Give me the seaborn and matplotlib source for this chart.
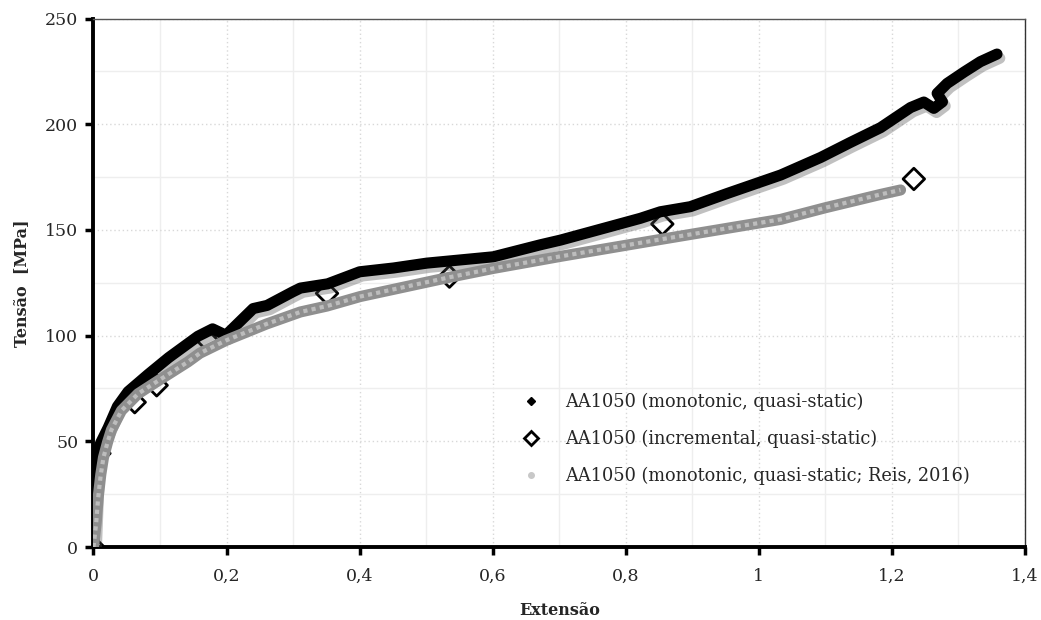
import numpy as np
import pandas as pd
import matplotlib
matplotlib.use("Agg")
import matplotlib.pyplot as plt
import matplotlib.patheffects as pe
from matplotlib.lines import Line2D
from matplotlib.ticker import MultipleLocator
import seaborn as sns

# ---- data ----
mono_x = [0, 0.003, 0.005, 0.011, 0.022, 0.036, 0.052, 0.082, 0.113, 0.157, 0.179, 0.199,
          0.24, 0.261, 0.30, 0.311, 0.352, 0.40, 0.451, 0.501, 0.601, 0.672, 0.702,
          0.822, 0.852, 0.897, 0.953, 1.033, 1.093, 1.137, 1.183, 1.228, 1.248, 1.263,
          1.276, 1.268, 1.283, 1.309, 1.333, 1.358]
mono_y = [0, 24, 44.3, 49.4, 56.4, 66.5, 73.5, 81.6, 89.6, 99.7, 103.2, 100.2,
          112.8, 114.3, 120.8, 122.5, 124.5, 130.2, 132, 134.3, 137.3, 143, 145.2,
          155.5, 158.6, 161, 167.3, 176, 184.3, 191.3, 198.4, 207.9, 210.5, 207.5,
          210.6, 214.6, 219.3, 224.8, 229.6, 233.2]

incr_x = [0, 0.009, 0.062, 0.095, 0.172, 0.351, 0.535, 0.855, 1.233]
incr_y = [0, 44.3, 68.5, 76.5, 97.5, 120, 127.9, 152.8, 174.1]

reis_x = [0, 0.004, 0.007, 0.011, 0.015, 0.021, 0.027, 0.042, 0.067, 0.092, 0.142, 0.160,
          0.199, 0.26, 0.311, 0.351, 0.401, 0.501, 0.535, 0.601, 0.672, 0.702, 0.852,
          1.033, 1.1, 1.183, 1.213]
reis_y = [0, 11.1, 23.2, 34.3, 42.3, 49.4, 55.4, 64.5, 72.5, 77.6, 87.6, 91.7,
          97.7, 105.5, 111.2, 114, 118.5, 125.3, 127.6, 131.8, 135.8, 137.5, 145.5,
          155, 160.5, 166.8, 168.9]

labels = ["AA1050 (monotonic, quasi-static)",
          "AA1050 (incremental, quasi-static)",
          "AA1050 (monotonic, quasi-static; Reis, 2016)"]
xticks = [0, 0.2, 0.4, 0.6, 0.8, 1.0, 1.2, 1.4]
xticklabels = ["0", "0,2", "0,4", "0,6", "0,8", "1", "1,2", "1,4"]
yticks = [0, 50, 100, 150, 200, 250]

mono = pd.DataFrame({"x": mono_x, "y": mono_y})
incr = pd.DataFrame({"x": incr_x, "y": incr_y})
reis = pd.DataFrame({"x": reis_x, "y": reis_y})

sns.set_theme(style="white")
plt.rcParams["font.family"] = ["DejaVu Serif"]

fig = plt.figure(figsize=(10.41, 6.2), dpi=100)
ax = fig.add_axes([0.0898, 0.1177, 0.8948, 0.8524])

# incremental diamonds (drawn beneath the curves)
sns.scatterplot(data=incr, x="x", y="y", ax=ax, marker="D", s=120,
                facecolor="none", edgecolor="black", linewidth=2, zorder=2)
# monotonic (black, thick with soft shadow)
sns.lineplot(data=mono, x="x", y="y", sort=False, estimator=None, ax=ax,
             color="black", linewidth=8, zorder=3, solid_capstyle="round",
             solid_joinstyle="round",
             path_effects=[pe.SimpleLineShadow(offset=(2, -3), shadow_color="0.3", alpha=0.35),
                           pe.Normal()])
# Reis (gray band)
sns.lineplot(data=reis, x="x", y="y", sort=False, estimator=None, ax=ax,
             color="#8f8f8f", linewidth=8, zorder=4, solid_capstyle="round",
             solid_joinstyle="round")
sns.lineplot(data=reis, x="x", y="y", sort=False, estimator=None, ax=ax,
             color="#bdbdbd", linewidth=3, zorder=4.5, linestyle=(0, (1, 1)))

ax.set_xlim(0, 1.4)
ax.set_ylim(0, 250)
ax.set_xticks(xticks)
ax.set_xticklabels(xticklabels)
ax.set_yticks(yticks)
ax.set_yticklabels([str(v) for v in yticks])
ax.xaxis.set_minor_locator(MultipleLocator(0.1))
ax.yaxis.set_minor_locator(MultipleLocator(25))
ax.grid(which="major", color="#d8d8d8", linestyle=(0, (1, 2)), linewidth=1.0)
ax.grid(which="minor", color="#eeeeee", linestyle="-", linewidth=1.0)
ax.set_axisbelow(True)

ax.tick_params(axis="both", which="major", direction="out", length=6, width=2.5,
               color="black", labelsize=12.5, bottom=True, left=True)
ax.tick_params(axis="y", which="major", pad=5)
ax.tick_params(axis="x", which="major", pad=9)
ax.tick_params(axis="both", which="minor", length=0)
for side in ["left", "bottom"]:
    ax.spines[side].set_linewidth(2.8)
    ax.spines[side].set_color("black")
ax.spines["top"].set_linewidth(1.0)
ax.spines["top"].set_color("#555555")
ax.spines["right"].set_linewidth(1.0)
ax.spines["right"].set_color("#333333")

ax.set_xlabel("Extensão", fontsize=11.5, fontweight="bold", labelpad=12)
ax.set_ylabel("Tensão  [MPa]", fontsize=11.5, fontweight="bold", labelpad=11)

handles = [
    Line2D([], [], linestyle="none", marker="D", markersize=4, markerfacecolor="black",
           markeredgecolor="black"),
    Line2D([], [], linestyle="none", marker="D", markersize=7, markerfacecolor="none",
           markeredgecolor="black", markeredgewidth=2),
    Line2D([], [], linestyle="none", marker="o", markersize=4, markerfacecolor="#c8c8c8",
           markeredgecolor="#c8c8c8"),
]
ax.legend(handles, labels, loc="upper left", bbox_to_anchor=(0.4385, 0.3213), frameon=False,
          fontsize=12.8, labelspacing=1.05, handletextpad=1.15, handlelength=1.5)

fig.savefig("out.png", dpi=100)
